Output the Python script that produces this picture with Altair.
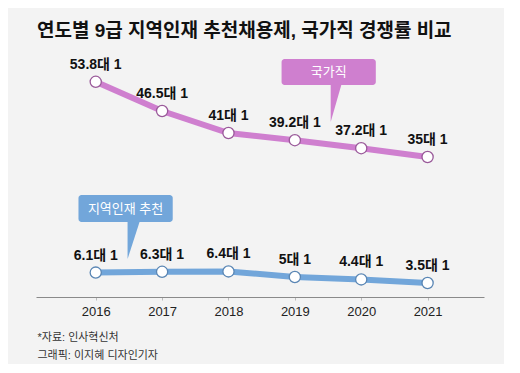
import altair as alt
import pandas as pd

years = [2016, 2017, 2018, 2019, 2020, 2021]
national = [53.8, 46.5, 41, 39.2, 37.2, 35]
local = [6.1, 6.3, 6.4, 5, 4.4, 3.5]

series_names = ["국가직", "지역인재 추천"]
series_colors = ["#cf7fcf", "#72a6da"]

# callout boxes (data units): x from, x to, y from, y to
box_x1 = [2018.80, 2015.74]
box_x2 = [2020.22, 2017.16]
box_y1 = [53.0, 18.75]
box_y2 = [59.5, 25.5]
# callout pointers: top-left x, top-right x, top y, tip y
ptr_xa = [2019.54, 2016.48]
ptr_xb = [2019.70, 2016.66]
ptr_top = [53.0, 18.75]
ptr_tip = [43.75, 9.5]

title_text = "연도별 9급 지역인재 추천채용제, 국가직 경쟁률 비교"
footer = ["*자료: 인사혁신처", "그래픽: 이지혜 디자인기자"]

BG = "#f3f3f3"
FONT = "Liberation Sans, Noto Sans CJK KR, sans-serif"

rows = []
for name, vals in zip(series_names, [national, local]):
    for y, v in zip(years, vals):
        rows.append({"series": name, "year": y, "value": v, "label": f"{v:g}대 1"})
df = pd.DataFrame(rows)

boxes = pd.DataFrame({
    "series": series_names, "x1": box_x1, "x2": box_x2, "y1": box_y1, "y2": box_y2,
    "xc": [(a + b) / 2 for a, b in zip(box_x1, box_x2)],
    "yc": [(a + b) / 2 for a, b in zip(box_y1, box_y2)],
})
ptr_rows = []
for name, xa, xb, yt, yp in zip(series_names, ptr_xa, ptr_xb, ptr_top, ptr_tip):
    ptr_rows.append({"series": name, "x": xa, "y": yp, "y2": yt})
    ptr_rows.append({"series": name, "x": xb, "y": yt, "y2": yt})
ptrs = pd.DataFrame(ptr_rows)

xscale = alt.Scale(domain=[2015.1, 2021.85], nice=False, zero=False)
yscale = alt.Scale(domain=[0, 60], nice=False)
color = alt.Color("series:N", scale=alt.Scale(domain=series_names, range=series_colors), legend=None)

xaxis = alt.Axis(
    values=years, format="d", title=footer, labelFontSize=13, labelColor="#222",
    labelFont=FONT, grid=False, domainColor="#8a8a8a", tickColor="#bbbbbb", tickSize=3,
    labelPadding=5, titleFont=FONT, titleFontSize=11, titleFontWeight="normal",
    titleColor="#333", titleAnchor="start", titleAlign="left", titleBaseline="top",
    titleX=1, titleY=34, titleLineHeight=18,
)

base = alt.Chart(df)
line = base.mark_line(strokeWidth=6).encode(
    x=alt.X("year:Q", scale=xscale, axis=xaxis),
    y=alt.Y("value:Q", scale=yscale, axis=None),
    color=color,
)
pts = base.mark_point(filled=True, fill="white", size=125, strokeWidth=1.3, opacity=1).encode(
    x="year:Q", y="value:Q",
    stroke=alt.Stroke("series:N", scale=alt.Scale(domain=series_names, range=["#9a5a9a", "#5a86b4"]), legend=None),
)
labels = base.mark_text(dy=-17, fontSize=14, fontWeight="bold", font=FONT, color="#111").encode(
    x="year:Q", y="value:Q", text="label:N"
)
rects = alt.Chart(boxes).mark_rect(cornerRadius=3).encode(
    x="x1:Q", x2="x2:Q", y="y1:Q", y2="y2:Q", color=color
)
box_text = alt.Chart(boxes).mark_text(fontSize=13, font=FONT, color="white").encode(
    x="xc:Q", y="yc:Q", text="series:N"
)
pointer = alt.Chart(ptrs).mark_area(opacity=1).encode(
    x="x:Q", y="y:Q", y2="y2:Q", color=color, detail="series:N"
)

chart = alt.layer(line, pts, labels, pointer, rects, box_text).properties(
    width=448, height=240, background=BG,
    padding={"left": 28, "top": 14, "right": 20, "bottom": 4},
    title=alt.TitleParams(title_text, anchor="start", fontSize=19, fontWeight="bold",
                          font=FONT, color="#111", offset=16, dx=1),
).configure_view(stroke=None, fill=BG)

chart.save("out.html", embed_options={"renderer": "svg", "actions": False})
